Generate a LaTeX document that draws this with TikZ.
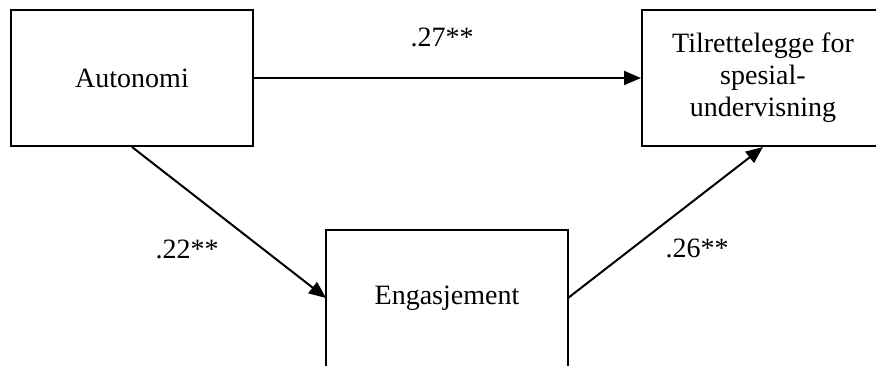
\documentclass[tikz,border=0pt]{standalone}
\usepackage{fontspec}
\setmainfont{Liberation Serif}
\usetikzlibrary{arrows.meta}
\begin{document}
\begin{tikzpicture}[x=1pt,y=-1pt,
  box/.style={draw=black, line width=2pt, minimum width=242pt, minimum height=136pt,
    inner sep=0pt, align=center, font=\fontsize{28}{32}\selectfont},
  openbox/.style={box, draw=none, outer sep=0pt},
  lab/.style={font=\fontsize{28}{32}\selectfont, inner sep=0pt},
  conn/.style={line width=2pt, -{Triangle[length=17pt,width=14pt]}}]
\useasboundingbox (0,0) rectangle (876,365);
\node[box] (aut) at (132,78) {Autonomi};
\node[box] (til) at (763,78) {Tilrettelegge for\\spesial-\\undervisning};
\node[openbox] (eng) at (447,298) {Engasjement};
\draw[line width=2pt] ([yshift=-4pt]eng.south west) -- (eng.north west) -- (eng.north east) -- ([yshift=-4pt]eng.south east);
\draw[conn] (aut.east) -- (til.west);
\draw[conn] (aut.south) -- (eng.west);
\draw[conn] (eng.east) -- (til.south);
\node[lab] (l1) at (442,37) {.27**};
\node[lab] (l2) at (187,249) {.22**};
\node[lab] (l3) at (697,248) {.26**};
\end{tikzpicture}
\end{document}
